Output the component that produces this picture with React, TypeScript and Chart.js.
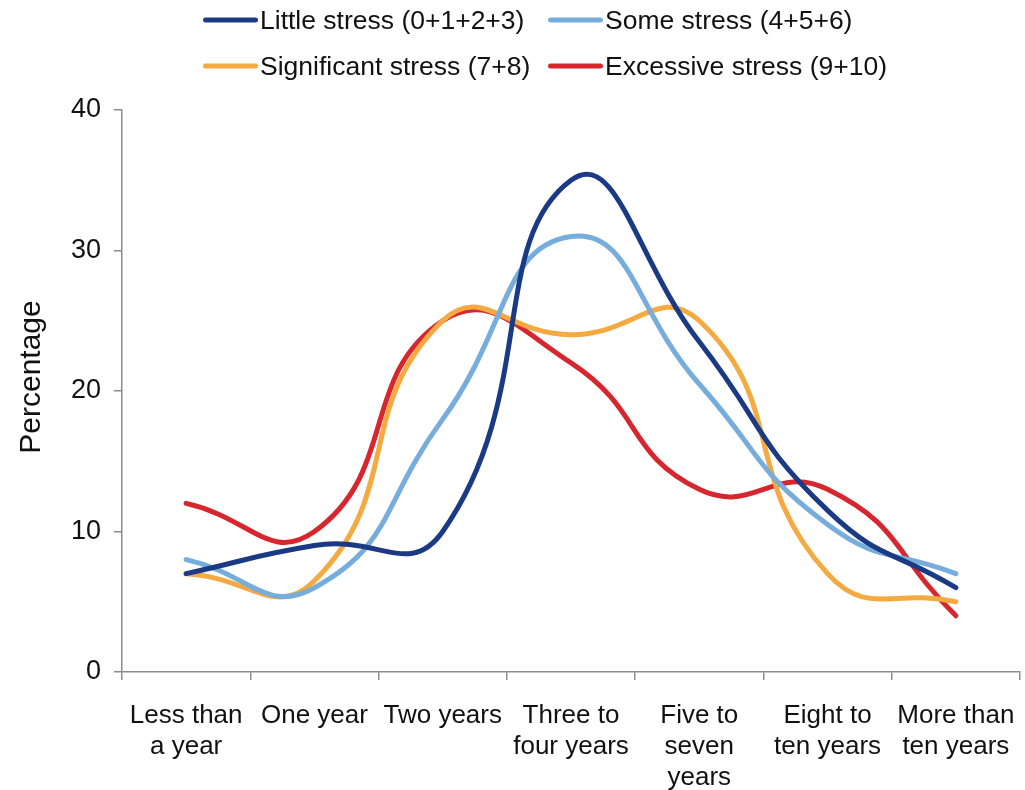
import React, { useEffect, useRef } from "react";
import { Chart, registerables } from "chart.js";

Chart.register(...registerables);

// Time categories (multi-line labels)
const categories: string[][] = [
  ["Less than", "a year"],
  ["One year"],
  ["Two years"],
  ["Three to", "four years"],
  ["Five to", "seven", "years"],
  ["Eight to", "ten years"],
  ["More than", "ten years"],
];

// Percentages per stress group
const littleStress = [7, 9, 10, 35, 23.5, 11.5, 6];
const someStress = [8, 6, 18, 31, 20.5, 10.5, 7];
const significantStress = [7, 6.5, 25, 24, 25, 7, 5];
const excessiveStress = [12, 10, 25, 22, 13, 13, 4];

const seriesNames = [
  "Little stress (0+1+2+3)",
  "Some stress (4+5+6)",
  "Significant stress (7+8)",
  "Excessive stress (9+10)",
];
const seriesColors = ["#1B3A85", "#76ADDC", "#F4AA41", "#D8262E"];

const yTitle = "Percentage";
const yMin = 0;
const yMax = 40;
const yStep = 10;

const FONT = "'Liberation Sans', Arial, sans-serif";

// Rotated y-axis title, placed slightly above the plot's vertical centre
const yTitlePlugin = {
  id: "yTitle",
  afterDraw(chart: any) {
    const { ctx, chartArea } = chart;
    const cy = (chartArea.top + chartArea.bottom) / 2 - 14;
    ctx.save();
    ctx.translate(32, cy);
    ctx.rotate(-Math.PI / 2);
    ctx.font = `30px ${FONT}`;
    ctx.fillStyle = "#111";
    ctx.textAlign = "center";
    ctx.textBaseline = "middle";
    ctx.fillText(yTitle, 0, 0);
    ctx.restore();
  },
};

export default function App() {
  const canvasRef = useRef<HTMLCanvasElement | null>(null);

  useEffect(() => {
    const canvas = canvasRef.current;
    if (!canvas) return;
    const values = [littleStress, someStress, significantStress, excessiveStress];
    const chart = new Chart(canvas, {
      type: "line",
      data: {
        labels: categories,
        datasets: values.map((v, i) => ({
          label: seriesNames[i],
          data: v,
          borderColor: seriesColors[i],
          backgroundColor: seriesColors[i],
          borderWidth: 5,
          borderCapStyle: "round",
          borderJoinStyle: "round",
          pointRadius: 0,
          pointHoverRadius: 0,
          tension: 0.5,
          fill: false,
        })),
      },
      options: {
        responsive: false,
        animation: false,
        layout: { padding: { top: 110, right: 5, bottom: 0, left: 0 } },
        plugins: {
          legend: { display: false },
          tooltip: { enabled: false },
        },
        scales: {
          x: {
            offset: true,
            grid: {
              offset: true,
              drawOnChartArea: false,
              drawTicks: true,
              tickLength: 8,
              color: "#8c8c8c",
              lineWidth: 1.5,
            },
            border: { color: "#8c8c8c", width: 1.5 },
            ticks: {
              autoSkip: false,
              maxRotation: 0,
              minRotation: 0,
              padding: 20,
              color: "#111",
              font: { family: FONT, size: 26, lineHeight: 1.2 },
            },
            afterFit: (scale: any) => {
              scale.height = 118;
              scale.paddingLeft = 0;
              scale.paddingRight = 0;
            },
          },
          y: {
            min: yMin,
            max: yMax,
            grid: {
              drawOnChartArea: false,
              drawTicks: true,
              tickLength: 8,
              color: "#8c8c8c",
              lineWidth: 1.5,
            },
            border: { color: "#8c8c8c", width: 1.5 },
            ticks: {
              stepSize: yStep,
              padding: 13,
              color: "#111",
              font: { family: FONT, size: 27 },
            },
            afterFit: (scale: any) => {
              scale.width = 122;
            },
          },
        },
      },
      plugins: [yTitlePlugin],
    });
    return () => chart.destroy();
  }, []);

  const legendPos = [
    { left: 203, top: 20 },
    { left: 548, top: 20 },
    { left: 203, top: 66 },
    { left: 548, top: 66 },
  ];

  return (
    <div style={{ position: "absolute", left: 0, top: 0, width: 1025, height: 790, background: "#fff" }}>
      <canvas ref={canvasRef} width={1025} height={790} style={{ display: "block" }} />
      {seriesNames.map((name, i) => (
        <div
          key={name}
          style={{
            position: "absolute",
            left: legendPos[i].left,
            top: legendPos[i].top,
            transform: "translateY(-50%)",
            display: "flex",
            alignItems: "center",
            fontFamily: FONT,
            fontSize: 26.5,
            color: "#111",
            whiteSpace: "nowrap",
          }}
        >
          <span
            style={{
              display: "inline-block",
              width: 55,
              height: 5,
              borderRadius: 3,
              background: seriesColors[i],
              marginRight: 2,
            }}
          />
          <span>{name}</span>
        </div>
      ))}
    </div>
  );
}
